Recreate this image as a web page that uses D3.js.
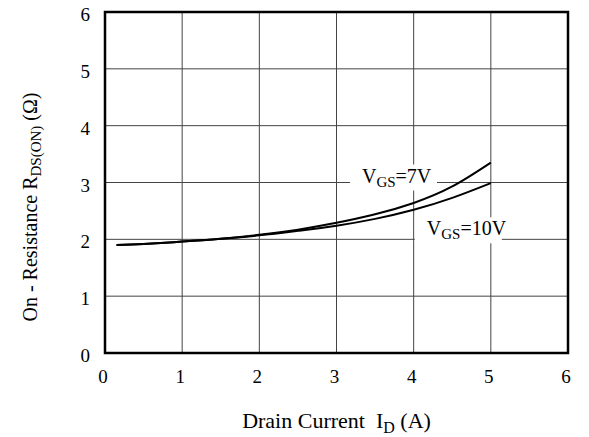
<!DOCTYPE html>
<html>
<head>
<meta charset="utf-8">
<script src="https://cdn.jsdelivr.net/npm/d3@7"></script>
<style>
  body { margin: 0; background: #fff; }
  text { font-family: "Liberation Serif", "Times New Roman", serif; fill: #000; }
</style>
</head>
<body>
<div id="chart"></div>
<script>
// data
const idAxis = [0.15, 0.5, 1, 1.5, 2, 2.5, 3, 3.5, 4, 4.5, 5];
const vgs7 = [1.9, 1.92, 1.96, 2.01, 2.08, 2.17, 2.29, 2.44, 2.64, 2.93, 3.35];
const vgs10 = [1.9, 1.92, 1.96, 2.01, 2.07, 2.15, 2.24, 2.36, 2.52, 2.73, 2.99];
const xTicks = [0, 1, 2, 3, 4, 5, 6];
const yTicks = [0, 1, 2, 3, 4, 5, 6];

//Margins
const margin = {top: 12, right: 21, bottom: 84, left: 105};
const width = 589 - margin.left - margin.right;
const height = 437 - margin.top - margin.bottom;

const svg = d3.select('#chart')
  .append('svg')
  .attr('width', 589)
  .attr('height', 437)
  .append('g')
  .attr('transform', 'translate(' + margin.left + ',' + margin.top + ')');

const x = d3.scaleLinear().domain([0, 6]).range([0, width]);
const y = d3.scaleLinear().domain([0, 6]).range([height, 0]);

// grid
svg.selectAll('.vgrid')
  .data(xTicks.slice(1, -1))
  .join('line')
  .attr('x1', d => x(d)).attr('x2', d => x(d))
  .attr('y1', 0).attr('y2', height)
  .attr('stroke', '#444').attr('stroke-width', 1);
svg.selectAll('.hgrid')
  .data(yTicks.slice(1, -1))
  .join('line')
  .attr('x1', 0).attr('x2', width)
  .attr('y1', d => y(d)).attr('y2', d => y(d))
  .attr('stroke', '#444').attr('stroke-width', 1);

// curves
const line = d3.line()
  .x((d, i) => x(idAxis[i]))
  .y(d => y(d))
  .curve(d3.curveNatural);
[vgs7, vgs10].forEach(s => {
  svg.append('path')
    .attr('d', line(s))
    .attr('fill', 'none')
    .attr('stroke', '#000')
    .attr('stroke-width', 2);
});

// curve labels with white boxes over the grid
function curveLabel(xv, yv, dy, rest) {
  const g = svg.append('g');
  g.append('rect')
    .attr('x', x(xv) - 12).attr('y', y(yv) + dy - 18)
    .attr('width', 87).attr('height', 26)
    .attr('fill', '#fff');
  const t = g.append('text')
    .attr('x', x(xv)).attr('y', y(yv) + dy)
    .style('font-size', '20px');
  t.append('tspan').text('V');
  t.append('tspan').text('GS').attr('dy', 4).style('font-size', '15px');
  t.append('tspan').text(rest).attr('dy', -4);
}
curveLabel(3.33, 3, 0, '=7V');
curveLabel(4.17, 2, -4, '=10V');

// frame
svg.append('rect')
  .attr('width', width).attr('height', height)
  .attr('fill', 'none')
  .attr('stroke', '#000').attr('stroke-width', 2.5);

// tick labels
svg.selectAll('.xlab')
  .data(xTicks)
  .join('text')
  .attr('x', d => x(d) - 2)
  .attr('y', height + 30)
  .attr('text-anchor', 'middle')
  .style('font-size', '19px')
  .text(d => d);
svg.selectAll('.ylab')
  .data(yTicks)
  .join('text')
  .attr('x', -15)
  .attr('y', d => y(d) + 9)
  .attr('text-anchor', 'end')
  .style('font-size', '19px')
  .text(d => d);

// axis titles
const xt = svg.append('text')
  .attr('x', x(3))
  .attr('y', height + 75)
  .attr('text-anchor', 'middle')
  .style('font-size', '22px')
  .style('white-space', 'pre');
xt.append('tspan').text('Drain Current  I');
xt.append('tspan').text('D').attr('dy', 5).style('font-size', '16px');
xt.append('tspan').text(' (A)').attr('dy', -5);

const yt = svg.append('text')
  .attr('transform', 'translate(-68,195) rotate(-90)')
  .attr('text-anchor', 'middle')
  .style('font-size', '20px');
yt.append('tspan').text('On - Resistance R');
yt.append('tspan').text('DS(ON)').attr('dy', 4).style('font-size', '15px');
yt.append('tspan').text(' (Ω)').attr('dy', -4);
</script>
</body>
</html>
